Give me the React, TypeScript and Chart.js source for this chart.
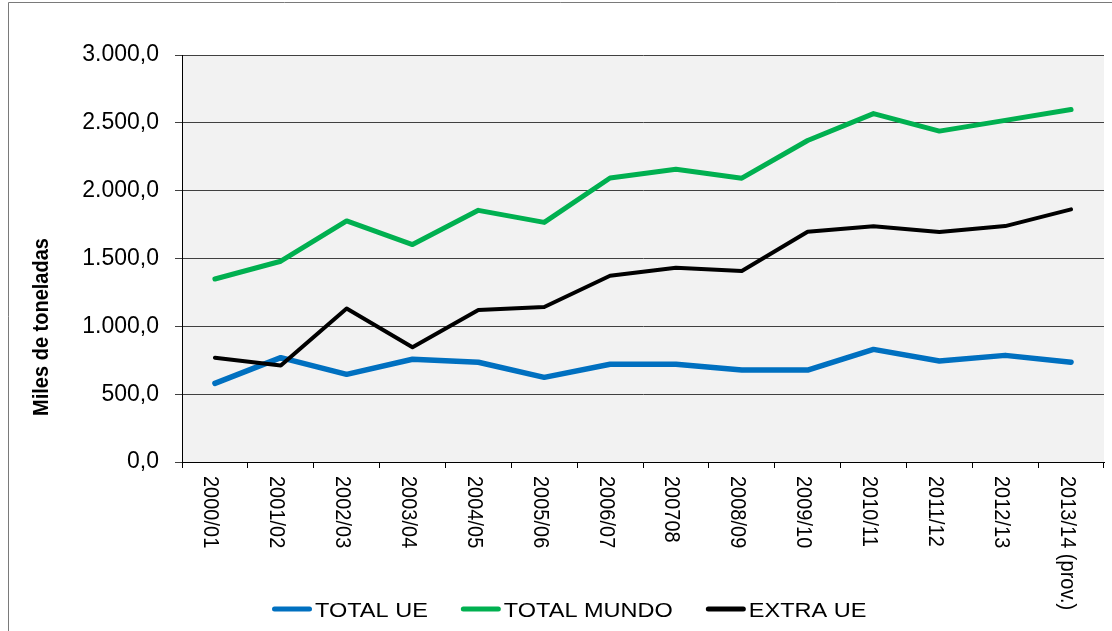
import React, { useEffect, useRef } from 'react';
import { Chart, registerables } from 'chart.js';

Chart.register(...registerables);

const categories = ['2000/01', '2001/02', '2002/03', '2003/04', '2004/05', '2005/06', '2006/07', '200708', '2008/09', '2009/10', '2010/11', '2011/12', '2012/13', '2013/14 (prov.)'];
const totalUE = [580, 769, 646, 757, 735, 624, 720, 720, 678, 678, 830, 744, 786, 735];
const totalMundo = [1349, 1480, 1777, 1603, 1855, 1766, 2093, 2158, 2092, 2370, 2568, 2439, 2518, 2598];
const extraUE = [769, 711, 1131, 846, 1120, 1142, 1373, 1432, 1408, 1697, 1738, 1695, 1739, 1862];
const seriesNames = ['TOTAL UE', 'TOTAL MUNDO', 'EXTRA UE'];
const seriesColors = ['#0070C0', '#00B050', '#000000'];
const yTitle = 'Miles de toneladas';
const yMin = 0;
const yMax = 3000;
const yStep = 500;

const FONT = '"Liberation Sans", Arial, sans-serif';
const STRETCH = 1.12;

function fmt(v: number): string {
  const s = Number(v).toFixed(1);
  const [i, d] = s.split('.');
  return i.replace(/\B(?=(\d{3})+(?!\d))/g, '.') + ',' + d;
}

const decorPlugin = {
  id: 'decor',
  beforeDraw(chart: any) {
    const { ctx, chartArea } = chart;
    ctx.save();
    ctx.fillStyle = '#ffffff';
    ctx.fillRect(0, 0, chart.width, chart.height);
    ctx.fillStyle = '#f2f2f2';
    ctx.fillRect(chartArea.left, chartArea.top, chartArea.right - chartArea.left, chartArea.bottom - chartArea.top);
    ctx.restore();
  },
  afterDraw(chart: any) {
    const { ctx, chartArea } = chart;
    const xs = chart.scales.x;
    ctx.save();
    // x labels rotated clockwise
    ctx.fillStyle = '#000';
    ctx.font = `20px ${FONT}`;
    ctx.textAlign = 'left';
    ctx.textBaseline = 'alphabetic';
    categories.forEach((c, i) => {
      const x = xs.getPixelForValue(i);
      ctx.save();
      ctx.translate(x - 10.5, chartArea.bottom + 14);
      ctx.rotate(Math.PI / 2);
      ctx.scale(1, STRETCH);
      ctx.fillText(c, 0, 0);
      ctx.restore();
    });
    // y title
    ctx.save();
    ctx.font = `bold 20px ${FONT}`;
    ctx.textAlign = 'center';
    ctx.textBaseline = 'middle';
    ctx.translate(41.5, 327);
    ctx.rotate(-Math.PI / 2);
    ctx.scale(1, STRETCH);
    ctx.fillText(yTitle, 0, 0);
    ctx.restore();
    // legend
    ctx.font = `21px ${FONT}`;
    ctx.textAlign = 'left';
    ctx.textBaseline = 'alphabetic';
    let lx = 272;
    const ly = 609;
    seriesNames.forEach((n, i) => {
      ctx.strokeStyle = seriesColors[i];
      ctx.lineWidth = 5;
      ctx.lineCap = 'round';
      ctx.beginPath();
      ctx.moveTo(lx + 2.5, ly);
      ctx.lineTo(lx + 37.5, ly);
      ctx.stroke();
      const tx = lx + 43;
      ctx.save();
      ctx.translate(tx, 617);
      ctx.scale(STRETCH, 1);
      ctx.fillText(n, 0, 0);
      ctx.restore();
      lx = tx + ctx.measureText(n).width * STRETCH + 33;
    });
    // frame
    ctx.strokeStyle = '#7a7a7a';
    ctx.lineWidth = 1;
    ctx.lineCap = 'butt';
    ctx.beginPath();
    ctx.moveTo(8.5, chart.height);
    ctx.lineTo(8.5, 2.5);
    ctx.lineTo(chart.width, 2.5);
    ctx.stroke();
    ctx.restore();
  },
};

export default function App() {
  const ref = useRef<HTMLCanvasElement>(null);
  useEffect(() => {
    document.body.style.margin = '0';
    const chart = new Chart(ref.current as HTMLCanvasElement, {
      type: 'line',
      data: {
        labels: categories,
        datasets: [
          { label: seriesNames[2], data: extraUE, borderColor: seriesColors[2], backgroundColor: seriesColors[2], borderWidth: 4, pointRadius: 0, borderJoinStyle: 'round', borderCapStyle: 'round', tension: 0 },
          { label: seriesNames[1], data: totalMundo, borderColor: seriesColors[1], backgroundColor: seriesColors[1], borderWidth: 5, pointRadius: 0, borderJoinStyle: 'round', borderCapStyle: 'round', tension: 0 },
          { label: seriesNames[0], data: totalUE, borderColor: seriesColors[0], backgroundColor: seriesColors[0], borderWidth: 5.5, pointRadius: 0, borderJoinStyle: 'round', borderCapStyle: 'round', tension: 0 },
        ],
      },
      options: {
        responsive: false,
        animation: false,
        layout: { padding: { top: 55, right: 8, left: 0, bottom: 0 } },
        plugins: { legend: { display: false }, tooltip: { enabled: false } },
        scales: {
          x: {
            offset: true,
            grid: { display: true, drawOnChartArea: false, drawTicks: true, tickLength: 6, offset: true, color: '#000' },
            border: { display: true, color: '#000', width: 1 },
            ticks: { display: false },
            afterFit: (s: any) => { s.height = 169; },
          },
          y: {
            min: yMin,
            max: yMax,
            ticks: { stepSize: yStep, callback: (v: any) => fmt(v), color: '#000', font: { family: FONT, size: 23 }, padding: 16 },
            grid: { color: '#404040', lineWidth: 1, drawTicks: true, tickLength: 7 },
            border: { display: true, color: '#000', width: 1 },
            afterFit: (s: any) => { s.width = 182; },
          },
        },
      },
      plugins: [decorPlugin],
    } as any);
    return () => chart.destroy();
  }, []);
  return (
    <div style={{ width: 1112, height: 631 }}>
      <canvas ref={ref} width={1112} height={631} />
    </div>
  );
}
